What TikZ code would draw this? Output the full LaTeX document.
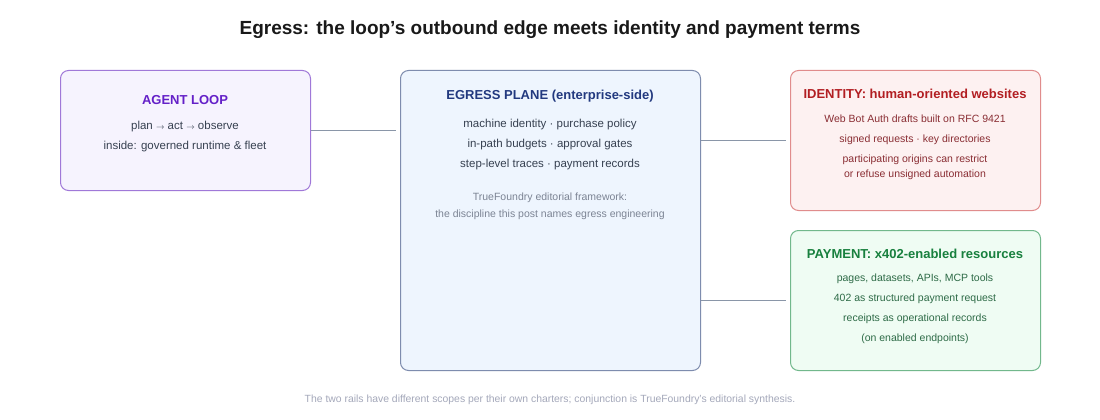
\documentclass[tikz,border=0pt]{standalone}
\usepackage{fontspec}
\setmainfont{Liberation Sans}
\begin{document}
\begin{tikzpicture}[x=1pt,y=-1pt,
  box/.style={draw,line width=1pt,rounded corners=8pt,inner sep=0pt,anchor=north west},
  ttl/.style={font=\fontsize{13}{15}\selectfont\bfseries,inner sep=0pt},
  body/.style={font=\fontsize{11.5}{13}\selectfont,inner sep=0pt},
  small/.style={font=\fontsize{10.5}{12}\selectfont,inner sep=0pt},
  conn/.style={draw=linec,line width=1.8pt,shorten >=4pt}]
\definecolor{linec}{HTML}{8A96A8}
\definecolor{agfill}{HTML}{F6F3FE}\definecolor{agdraw}{HTML}{A078D8}\definecolor{agtext}{HTML}{6420C8}
\definecolor{egfill}{HTML}{EEF5FE}\definecolor{egdraw}{HTML}{7E8CAE}\definecolor{egtext}{HTML}{22397F}
\definecolor{idfill}{HTML}{FDF1F1}\definecolor{iddraw}{HTML}{E08C8C}\definecolor{idtext}{HTML}{B21E22}\definecolor{idbody}{HTML}{8A2E34}
\definecolor{pyfill}{HTML}{EFFCF3}\definecolor{pydraw}{HTML}{72B88C}\definecolor{pytext}{HTML}{18803E}\definecolor{pybody}{HTML}{2E6B47}
\definecolor{bodyc}{HTML}{374151}\definecolor{grayc}{HTML}{7C8494}\definecolor{footc}{HTML}{A4A8BA}
\useasboundingbox[fill=white] (0,0) rectangle (1100,420);
\node[font=\fontsize{19}{22}\selectfont\bfseries,text=black!90,inner sep=0pt] (title) at (550,30) {Egress: the loop’s outbound edge meets identity and payment terms};
% boxes
\node[box,fill=agfill,draw=agdraw,minimum width=250pt,minimum height=120pt] (agent) at (60,70) {};
\node[box,fill=egfill,draw=egdraw,minimum width=300pt,minimum height=300pt] (egress) at (400,70) {};
\node[box,fill=idfill,draw=iddraw,minimum width=250pt,minimum height=140pt] (ident) at (790,70) {};
\node[box,fill=pyfill,draw=pydraw,minimum width=250pt,minimum height=140pt] (pay) at (790,230) {};
% connectors
\draw[conn] (agent.east) -- (agent.east -| egress.west);
\draw[conn] (ident.west -| egress.east) -- (ident.west);
\draw[conn] (pay.west -| egress.east) -- (pay.west);
% agent text
\node[ttl,text=agtext] (agt) at (185,100) {AGENT LOOP};
\node[body,text=bodyc] (ag1) at (185,126.5) {plan {\fontsize{8}{10}\selectfont$\rightarrow$} act {\fontsize{8}{10}\selectfont$\rightarrow$} observe};
\node[body,text=bodyc] (ag2) at (185,146.5) {inside: governed runtime \& fleet};
% egress text
\node[ttl,text=egtext] (egt) at (550,96) {EGRESS PLANE (enterprise-side)};
\node[body,text=bodyc] (eg1) at (550,125) {machine identity · purchase policy};
\node[body,text=bodyc] (eg2) at (550,145) {in-path budgets · approval gates};
\node[body,text=bodyc] (eg3) at (550,165) {step-level traces · payment records};
\node[small,text=grayc] (eg4) at (550,197.5) {TrueFoundry editorial framework:};
\node[small,text=grayc] (eg5) at (550,215) {the discipline this post names egress engineering};
% identity text
\node[ttl,text=idtext] (idt) at (915,94) {IDENTITY: human-oriented websites};
\node[small,text=idbody] (id1) at (915,119) {Web Bot Auth drafts built on RFC 9421};
\node[small,text=idbody] (id2) at (915,139.5) {signed requests · key directories};
\node[small,text=idbody] (id3) at (915,159.5) {participating origins can restrict};
\node[small,text=idbody] (id4) at (915,175) {or refuse unsigned automation};
% payment text
\node[ttl,text=pytext] (pyt) at (915,254) {PAYMENT: x402-enabled resources};
\node[small,text=pybody] (py1) at (915,279) {pages, datasets, APIs, MCP tools};
\node[small,text=pybody] (py2) at (915,299) {402 as structured payment request};
\node[small,text=pybody] (py3) at (915,319) {receipts as operational records};
\node[small,text=pybody] (py4) at (915,339) {(on enabled endpoints)};
% footer
\node[font=\fontsize{10.4}{12}\selectfont,text=footc,inner sep=0pt] (foot) at (550,400) {The two rails have different scopes per their own charters; conjunction is TrueFoundry’s editorial synthesis.};
\end{tikzpicture}
\end{document}
